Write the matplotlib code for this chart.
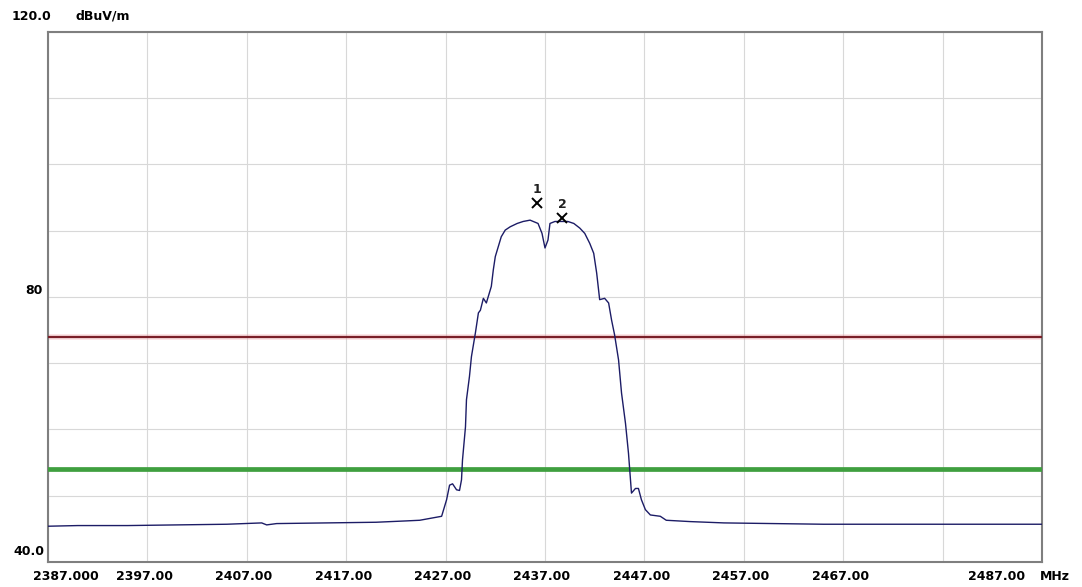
# Radiated emission sweep around the 2.4 GHz band with peak / average limit lines
import numpy as np
import matplotlib.pyplot as plt
from matplotlib import transforms

# sweep trace (MHz, dBuV/m)
freq_mhz = [2387.0, 2390.0, 2395.0, 2400.0, 2405.0, 2408.5, 2409.0, 2410.0, 2415.0,
            2420.0, 2423.0, 2424.4, 2426.6, 2427.1, 2427.4, 2427.7, 2428.1, 2428.4,
            2428.6, 2428.7, 2429.0, 2429.1, 2429.4, 2429.6, 2430.0, 2430.3, 2430.5,
            2430.8, 2431.1, 2431.5, 2431.6, 2431.8, 2432.0, 2432.3, 2432.6, 2433.0,
            2433.5, 2434.2, 2434.8, 2435.5, 2436.3, 2436.7, 2437.0, 2437.3, 2437.5,
            2438.0, 2438.7, 2439.3, 2439.9, 2440.5, 2441.0, 2441.5, 2441.9, 2442.2,
            2442.5, 2443.0, 2443.4, 2443.7, 2444.0, 2444.4, 2444.7, 2445.1, 2445.4,
            2445.6, 2445.7, 2446.1, 2446.4, 2446.7, 2447.1, 2447.6, 2448.6, 2449.2,
            2451.6, 2455.0, 2460.0, 2465.0, 2470.0, 2475.0, 2480.0, 2487.0]
level_dbuv = [45.4, 45.5, 45.5, 45.6, 45.7, 45.9, 45.6, 45.8, 45.9,
              46.0, 46.2, 46.3, 46.9, 49.4, 51.6, 51.8, 50.9, 50.8,
              52.4, 55.4, 60.4, 64.5, 68.0, 71.0, 74.6, 77.6, 78.0,
              79.8, 79.1, 81.1, 81.6, 84.1, 86.1, 87.6, 89.1, 90.1,
              90.6, 91.1, 91.4, 91.6, 91.1, 89.6, 87.4, 88.6, 91.1,
              91.4, 91.4, 91.4, 91.1, 90.4, 89.6, 88.1, 86.6, 83.6,
              79.6, 79.8, 79.1, 76.5, 74.3, 70.5, 65.5, 60.9, 56.4,
              52.4, 50.4, 51.1, 51.1, 49.4, 47.9, 47.1, 46.9, 46.3,
              46.1, 45.9, 45.8, 45.7, 45.7, 45.7, 45.7, 45.7]

# markers
marker_ids = ["1", "2"]
marker_freq = [2436.2, 2438.7]
marker_level = [94.2, 91.9]

# limit lines
peak_limit = 74.0
avg_limit = 54.0

# axis settings
f_start, f_stop = 2387.0, 2487.0
y_min, y_max = 40.0, 120.0
x_grid = np.arange(2387, 2488, 10)
x_labels = ["2387.000", "2397.00", "2407.00", "2417.00", "2427.00", "2437.00",
            "2447.00", "2457.00", "2467.00", "", "2487.00"]
y_grid = np.arange(40, 121, 10)

fig = plt.figure(figsize=(10.82, 5.87), dpi=100)
ax = fig.add_axes([0.04436, 0.04259, 0.91867, 0.9029])

ax.set_xlim(f_start, f_stop)
ax.set_ylim(y_min, y_max)

# grid
ax.set_xticks(x_grid)
ax.set_yticks(y_grid)
ax.grid(True, color="#d8d8d8", linewidth=0.8)
ax.set_axisbelow(True)

# limit lines
ax.axhline(peak_limit, color="#f2a0a8", linewidth=4.0, alpha=0.35, zorder=2)
ax.axhline(peak_limit, color="#7a1f28", linewidth=1.6, zorder=3)
ax.axhline(avg_limit, color="#3f9f3f", linewidth=3.4, zorder=3)

# trace
ax.plot(freq_mhz, level_dbuv, color="#1c1c66", linewidth=1.0, zorder=4)

# markers
ax.plot(marker_freq, marker_level, linestyle="none", marker="x", color="black",
        markersize=7, markeredgewidth=1.4, zorder=5)
for mid, f, lv in zip(marker_ids, marker_freq, marker_level):
    ax.annotate(mid, (f, lv), xytext=(0, 5), textcoords="offset points",
                ha="center", va="bottom", fontsize=9, fontweight="bold",
                color="#202020")

# frame
for side in ax.spines.values():
    side.set_color("#7f7f7f")
    side.set_linewidth(1.5)

# x tick labels
font = dict(family="DejaVu Sans", weight="bold", size=9)
ax.set_xticklabels(x_labels, **font)
ax.tick_params(axis="x", length=0, pad=6)
ax.tick_params(axis="y", length=0, labelleft=False)
shift = {0: 18, 10: -45}
for i, lab in enumerate(ax.get_xticklabels()):
    dx = shift.get(i, -3) / 100.0
    lab.set_transform(lab.get_transform() +
                      transforms.ScaledTranslation(dx, 0, fig.dpi_scale_trans))

# y labels
ytrans = transforms.blended_transform_factory(ax.transAxes, ax.transData)
lift = transforms.ScaledTranslation(0, 4 / 100.0, fig.dpi_scale_trans)
ax.text(-0.004, 40, "40.0", transform=ytrans + lift, ha="right", va="bottom", **font)
ax.text(-0.005, 80, "80", transform=ytrans, ha="right", va="bottom", **font)

# units
fig.text(12 / 1082, 1 - 16 / 587, "120.0", ha="left", va="center", **font)
fig.text(76 / 1082, 1 - 16 / 587, "dBuV/m", ha="left", va="center", **font)
fig.text(1040 / 1082, 1 - 577 / 587, "MHz", ha="left", va="center", **font)

fig.savefig("out.png", dpi=100, facecolor="white")
